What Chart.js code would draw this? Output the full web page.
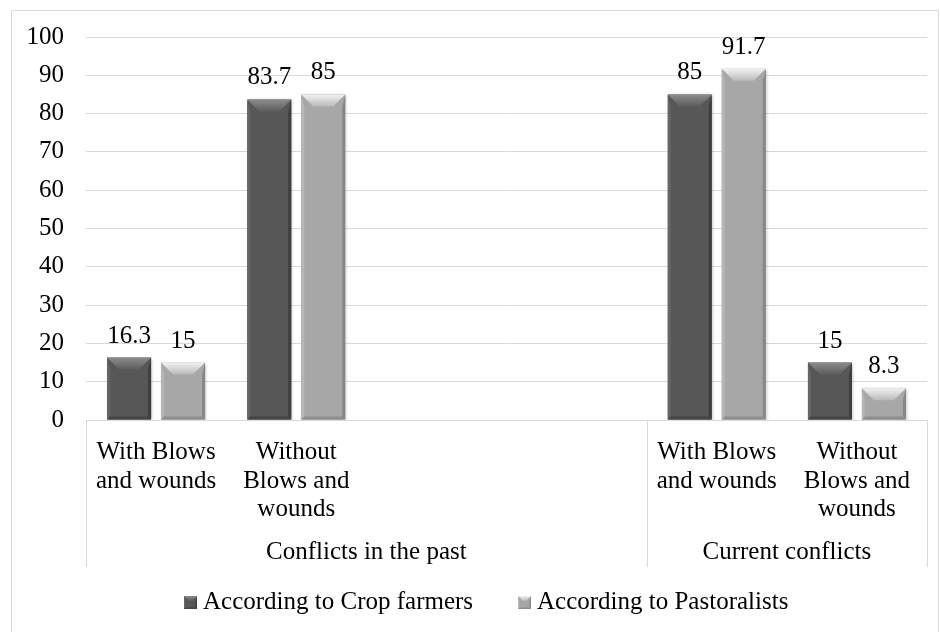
<!DOCTYPE html>
<html lang="en">
<head>
  <meta charset="UTF-8" />
  <title>Conflicts with and without blows and wounds</title>
  <script src="https://cdn.jsdelivr.net/npm/chart.js"></script>
  <style>
    body { margin: 0; background: #fff; }
    #wrap { position: relative; width: 940px; height: 632px; }
  </style>
</head>
<body>
  <div id="wrap"><canvas id="chartCanvas"></canvas></div>

  <script>
    // --- data ---
    const categories = [
      ["With Blows", "and wounds"],
      ["Without", "Blows and", "wounds"],
      "",
      "",
      ["With Blows", "and wounds"],
      ["Without", "Blows and", "wounds"]
    ];
    const groups = ["Conflicts in the past", "Current conflicts"];
    const groupSizes = [4, 2];   // number of categories under each group label

    const seriesNames = ["According to Crop farmers", "According to Pastoralists"];
    const cropFarmers  = [16.3, 83.7, null, null, 85, 15];
    const pastoralists = [15, 85, null, null, 91.7, 8.3];

    const yMin = 0, yMax = 100, yStep = 10;

    // --- look ---
    const FONT = "'Liberation Serif', 'Times New Roman', serif";
    const FS = 25;
    const GRID = "#d9d9d9";
    const shades = [
      { body: "#575757", hi: "#8c8c8c", lo: "#5c5c5c", left: "#656565", right: "#3e3e3e", bottom: "#454545" },
      { body: "#a7a7a7", hi: "#f2f2f2", lo: "#b9b9b9", left: "#b6b6b6", right: "#878787", bottom: "#8d8d8d" }
    ];

    Chart.defaults.font.family = FONT;
    Chart.defaults.font.size = FS;
    Chart.defaults.color = "#000";

    function poly(ctx, pts) {
      ctx.beginPath();
      ctx.moveTo(pts[0][0], pts[0][1]);
      for (let k = 1; k < pts.length; k++) ctx.lineTo(pts[k][0], pts[k][1]);
      ctx.closePath();
      ctx.fill();
    }

    // bevel drawn over a box (bars and legend squares)
    function bevel(ctx, pal, L, T, R, B, b, s) {
      ctx.fillStyle = pal.left;
      poly(ctx, [[L, T], [L + s, T + b], [L + s, B - s], [L, B]]);
      ctx.fillStyle = pal.right;
      poly(ctx, [[R, T], [R - s, T + b], [R - s, B - s], [R, B]]);
      ctx.fillStyle = pal.bottom;
      poly(ctx, [[L, B], [L + s, B - s], [R - s, B - s], [R, B]]);
      const g = ctx.createLinearGradient(0, T, 0, T + b);
      g.addColorStop(0, pal.hi);
      g.addColorStop(1, pal.lo);
      ctx.fillStyle = g;
      poly(ctx, [[L, T], [R, T], [R - b, T + b], [L + b, T + b]]);
    }

    // outer frame of the chart
    const framePlugin = {
      id: "frame",
      beforeDraw(chart) {
        const ctx = chart.ctx;
        ctx.save();
        ctx.strokeStyle = GRID;
        ctx.lineWidth = 1;
        ctx.strokeRect(11.5, 10.5, 927, 700);
        ctx.restore();
      }
    };

    // soft shadow + bevelled tops + value labels
    const barLook = {
      id: "barLook",
      beforeDatasetsDraw(chart) {
        const ctx = chart.ctx;
        ctx.save();
        ctx.shadowColor = "rgba(0,0,0,0.28)";
        ctx.shadowBlur = 3;
        ctx.shadowOffsetX = 1;
        ctx.shadowOffsetY = 1;
      },
      afterDatasetsDraw(chart) {
        const ctx = chart.ctx;
        ctx.restore();
        ctx.save();
        chart.data.datasets.forEach((ds, di) => {
          const meta = chart.getDatasetMeta(di);
          meta.data.forEach((bar, i) => {
            const v = ds.data[i];
            if (v == null) return;
            const p = bar.getProps(["x", "y", "base", "width"], true);
            const L = p.x - p.width / 2, R = p.x + p.width / 2, T = p.y, B = p.base;
            bevel(ctx, shades[di], L, T, R, B, Math.min(12, (B - T) / 2, p.width / 3), 3);

            ctx.fillStyle = "#000";
            ctx.font = FS + "px " + FONT;
            ctx.textAlign = "center";
            ctx.textBaseline = "alphabetic";
            ctx.fillText(String(v), p.x, T - 15);
          });
        });
        ctx.restore();
      }
    };

    // second row of category labels with divider lines, then the legend
    const groupAxis = {
      id: "groupAxis",
      afterDraw(chart) {
        const ctx = chart.ctx;
        const x = chart.scales.x;
        const top = chart.chartArea.bottom;
        const bottom = top + 147;
        const half = (x.getPixelForValue(1) - x.getPixelForValue(0)) / 2;
        ctx.save();
        ctx.strokeStyle = GRID;
        ctx.lineWidth = 1;
        ctx.fillStyle = "#000";
        ctx.font = FS + "px " + FONT;
        ctx.textAlign = "center";
        ctx.textBaseline = "middle";
        let start = 0;
        const edges = [x.left];
        groups.forEach((name, gi) => {
          const end = start + groupSizes[gi] - 1;
          const gl = x.getPixelForValue(start) - half;
          const gr = x.getPixelForValue(end) + half;
          edges.push(gr);
          ctx.fillText(name, (gl + gr) / 2, top + 132);
          start = end + 1;
        });
        edges.forEach(ex => {
          const px = Math.round(ex) + 0.5;
          ctx.beginPath();
          ctx.moveTo(px, top);
          ctx.lineTo(px, bottom);
          ctx.stroke();
        });

        // legend: bevelled square + series name, centred a little right of middle
        const box = 13, gap = 6, between = 45, cy = 602, cx = 486;
        const widths = seriesNames.map(n => box + gap + ctx.measureText(n).width);
        let lx = cx - (widths.reduce((a, b) => a + b, 0) + between * (widths.length - 1)) / 2;
        ctx.textAlign = "left";
        seriesNames.forEach((name, k) => {
          const pal = shades[k];
          const bx = Math.round(lx), by = Math.round(cy - box / 2);
          ctx.fillStyle = pal.body;
          ctx.fillRect(bx, by, box, box);
          bevel(ctx, pal, bx, by, bx + box, by + box, 5, 1.5);
          ctx.fillStyle = "#000";
          ctx.fillText(name, bx + box + gap, cy);
          lx += widths[k] + between;
        });
        ctx.restore();
      }
    };

    const PAD_BOTTOM = 50;

    new Chart(document.getElementById("chartCanvas"), {
      type: "bar",
      data: {
        labels: categories,
        datasets: [
          { label: seriesNames[0], data: cropFarmers, backgroundColor: shades[0].body, borderWidth: 0 },
          { label: seriesNames[1], data: pastoralists, backgroundColor: shades[1].body, borderWidth: 0 }
        ]
      },
      options: {
        responsive: true,
        maintainAspectRatio: false,
        animation: false,
        layout: { padding: { left: 20, right: 13, top: 36, bottom: PAD_BOTTOM } },
        datasets: { bar: { categoryPercentage: 0.77, barPercentage: 0.815 } },
        plugins: {
          legend: { display: false },
          tooltip: { enabled: false }
        },
        scales: {
          x: {
            grid: { display: false },
            border: { display: true, color: GRID },
            ticks: { autoSkip: false, maxRotation: 0, padding: 10, font: { size: FS, lineHeight: 1.15 } },
            afterFit(scale) { scale.height = scale.chart.height - PAD_BOTTOM - 420; }
          },
          y: {
            min: yMin, max: yMax,
            grid: { color: GRID, drawTicks: false },
            border: { display: false },
            ticks: { stepSize: yStep, padding: 22, font: { size: FS } },
            afterFit(scale) { scale.width = 66; }
          }
        }
      },
      plugins: [framePlugin, barLook, groupAxis]
    });
  </script>
</body>
</html>
